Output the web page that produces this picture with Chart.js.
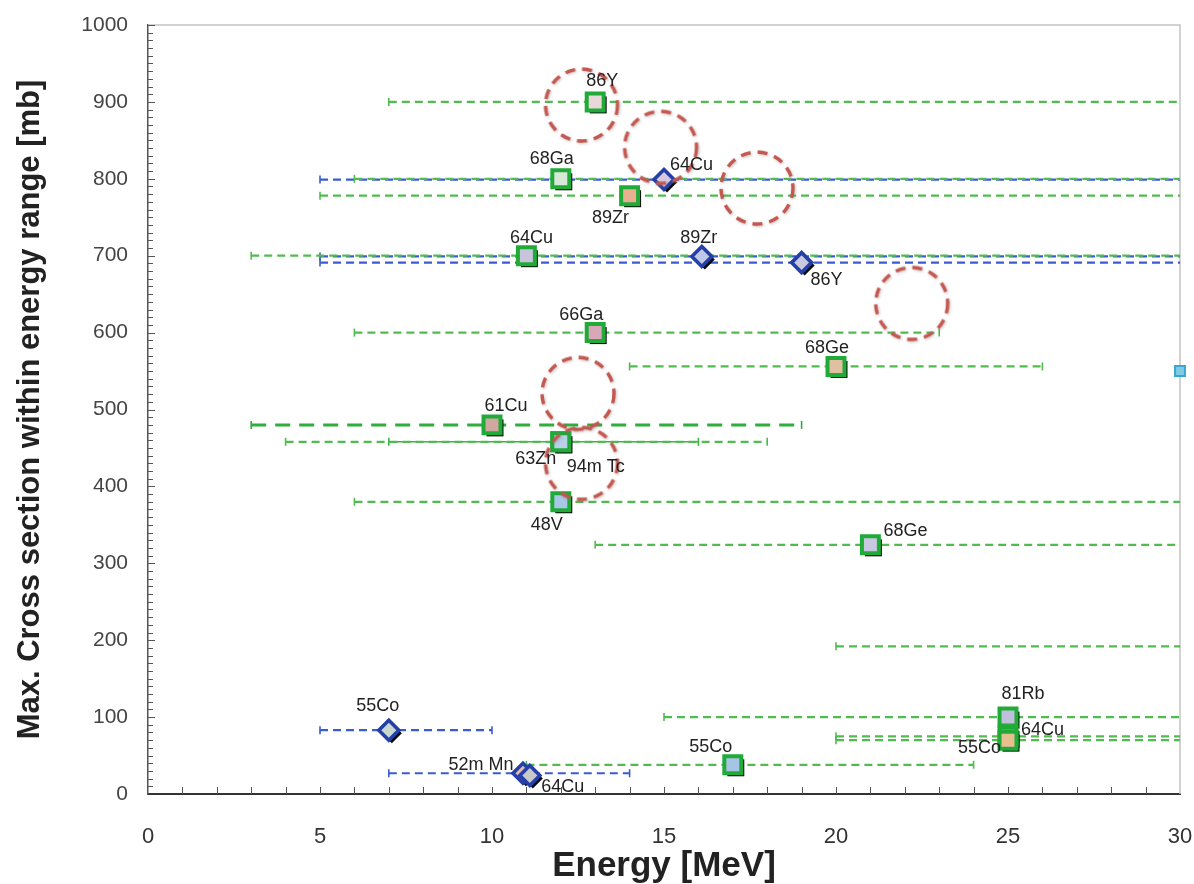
<!DOCTYPE html>
<html>
<head>
<meta charset="utf-8">
<script src="https://cdn.jsdelivr.net/npm/chart.js@4/dist/chart.umd.min.js"></script>
<style>
  html, body { margin: 0; padding: 0; background: #fff; }
  #wrap { width: 1194px; height: 884px; position: relative; }
</style>
</head>
<body>
<div id="wrap"><canvas id="grafico"></canvas></div>
<script>
// isotopes shown with green squares (energy of max, max cross section, energy range)
const greenNames  = ['86Y', '68Ga', '89Zr', '64Cu', '66Ga', '68Ge', '61Cu', '63Zn', '94m Tc', '48V', '68Ge', '81Rb', '64Cu', '55Co', '55Co'];
const greenEnergy = [13, 12, 14, 11, 13, 20, 10, 12, 12, 12, 21, 25, 25, 25, 17];
const greenXs     = [900, 800, 778, 700, 600, 556, 480, 458, 458, 380, 324, 100, 75, 70, 38];
const greenLow    = [7, 6, 5, 3, 6, 14, 3, 4, 7, 6, 13, 15, 20, 20, 11];
const greenHigh   = [30, 30, 30, 30, 23, 26, 19, 18, 16, 30, 30, 30, 30, 30, 24];

// isotopes shown with blue diamonds (null = no range line of its own)
const blueNames  = ['64Cu', '89Zr', '86Y', '55Co', '52m Mn', '64Cu'];
const blueEnergy = [15, 16.1, 19, 7, 10.9, 11.1];
const blueXs     = [799, 699, 691, 83, 27, 24];
const blueLow    = [5, 5, 5, 5, 7, null];
const blueHigh   = [30, 30, 30, 10, 14, null];

// range line with no marker inside the plot
const bareXs   = [192];
const bareLow  = [20];
const bareHigh = [30];

// point sitting on the right edge
const edgeEnergy = [30];
const edgeXs     = [550];

// red dashed circles
const circleEnergy = [12.6, 14.9, 17.7, 22.2, 12.5, 12.6];
const circleXs     = [896, 841, 788, 638, 521, 430];

// tick labels
const xTicks = [0, 5, 10, 15, 20, 25, 30];
const yTicks = [0, 100, 200, 300, 400, 500, 600, 700, 800, 900, 1000];

// --- styles (kept apart from the data) ---
const greenFill = ['#e8d8d8', '#d8e8d8', '#e8b090', '#c8c4dc', '#d8a8b8', '#e0c0a0', '#d0a8a0', '#b8d0e8', '#b8d0e8', '#a8c8e8', '#c8c8e0', '#c0c0dc', '#e8c090', '#e8c090', '#a8c4e4'];
const greenOffsets = [[7, -21, 'center'], [-9, -20, 'center'], [-19, 22, 'center'], [5, -18, 'center'], [-14, -18, 'center'],
  [-9, -18, 'center'], [14, -19, 'center'], [-25, 17, 'center'], [35, 25, 'center'], [-14, 23, 'center'],
  [35, -14, 'center'], [15, -23, 'center'], [13, -6, 'left'], [-7, 8, 'right'], [-22, -18, 'center']];
const blueOffsets = [[6, -15, 'left'], [-3, -18, 'center'], [25, 17, 'center'], [-11, -24, 'center'], [-42, -8, 'center'], [33, 11, 'center']];
const blueFill = ['#d8c8e0', '#c0c8e8', '#c8c8e0', '#c8d8d0', '#e8b8a8', '#c8c8c8'];

const verde = '#20aa38';
const verdeLinha = '#50bc50';
const azul = '#2440a8';
const azulLinha = '#3a5cd0';
const fonteTitulo = '"Liberation Sans", Arial, sans-serif';

// dashed red circle image used as a point style
function circuloTracejado() {
  const c = document.createElement('canvas');
  c.width = 90; c.height = 90;
  const g = c.getContext('2d');
  g.shadowColor = 'rgba(120,120,120,0.45)';
  g.shadowBlur = 3;
  g.shadowOffsetX = 1;
  g.shadowOffsetY = 1;
  g.strokeStyle = '#c4574f';
  g.lineWidth = 3.4;
  g.setLineDash([10, 7]);
  g.beginPath();
  g.arc(45, 45, 36, 0, Math.PI * 2);
  g.stroke();
  return c;
}

function barra(y, lo, hi, cor, dash, largura) {
  return {
    type: 'scatter',
    data: [{ x: lo, y: y }, { x: hi, y: y }],
    showLine: true,
    borderColor: cor,
    borderWidth: largura,
    borderDash: dash,
    pointStyle: 'line',
    rotation: 90,
    pointRadius: [4, hi >= 30 ? 0 : 4],
    pointBorderColor: cor,
    pointBorderWidth: 1.6,
    order: 5
  };
}

const datasets = [];

// range bars
greenXs.forEach((y, i) => {
  if (greenNames[i] === '61Cu') datasets.push(barra(y, greenLow[i], greenHigh[i], '#2eae3a', [15, 9], 3));
  else if (greenNames[i] === '94m Tc') datasets.push(barra(y, greenLow[i], greenHigh[i], '#3cb444', [], 1.6));
  else datasets.push(barra(y, greenLow[i], greenHigh[i], verdeLinha, [8, 5], 2.2));
});
bareXs.forEach((y, i) => datasets.push(barra(y, bareLow[i], bareHigh[i], verdeLinha, [8, 5], 2.2)));
blueXs.forEach((y, i) => {
  if (blueLow[i] !== null) datasets.push(barra(y, blueLow[i], blueHigh[i], azulLinha, [8, 5], 2.2));
});

const pontosVerdes = greenEnergy.map((x, i) => ({ x: x, y: greenXs[i] }));
const pontosAzuis = blueEnergy.map((x, i) => ({ x: x, y: blueXs[i] }));

// shadows (same points, drawn shifted)
datasets.push({ data: pontosVerdes, pointStyle: 'rect', pointRadius: 12, backgroundColor: '#0a0a0a', borderWidth: 0, sombra: true, order: 4 });
datasets.push({ data: pontosAzuis, pointStyle: 'rectRot', pointRadius: 10, backgroundColor: '#0a0a0a', borderWidth: 0, sombra: true, order: 4 });

// markers
datasets.push({ data: pontosVerdes, pointStyle: 'rect', pointRadius: 12, backgroundColor: greenFill, borderColor: verde, borderWidth: 4, nomes: greenNames, deslocamentos: greenOffsets, order: 3 });
datasets.push({ data: pontosAzuis, pointStyle: 'rectRot', pointRadius: 10, backgroundColor: blueFill, borderColor: azul, borderWidth: 3.6, nomes: blueNames, deslocamentos: blueOffsets, order: 2 });
datasets.push({ data: edgeEnergy.map((x, i) => ({ x: x, y: edgeXs[i] })), pointStyle: 'rect', pointRadius: 7, backgroundColor: '#7fcbe6', borderColor: '#3aa6cf', borderWidth: 2, clip: false, order: 2 });

// circles
datasets.push({ data: circleEnergy.map((x, i) => ({ x: x, y: circleXs[i] })), pointStyle: circuloTracejado(), pointRadius: 36, clip: false, order: 1 });

const pluginDesenho = {
  id: 'desenho',
  beforeDatasetsDraw(chart) {
    const { ctx, chartArea, scales } = chart;
    ctx.save();
    // light frame on top and right
    ctx.strokeStyle = '#c4c4c4';
    ctx.lineWidth = 1.5;
    ctx.beginPath();
    ctx.moveTo(chartArea.left, chartArea.top);
    ctx.lineTo(chartArea.right, chartArea.top);
    ctx.lineTo(chartArea.right, chartArea.bottom);
    ctx.stroke();
    // tick marks pointing inside
    ctx.strokeStyle = '#555';
    ctx.lineWidth = 1;
    for (let v = 1; v < 30; v++) {
      const px = Math.round(scales.x.getPixelForValue(v)) + 0.5;
      ctx.beginPath();
      ctx.moveTo(px, chartArea.bottom);
      ctx.lineTo(px, chartArea.bottom - 7);
      ctx.stroke();
    }
    for (let v = 10; v <= 1000; v += 10) {
      const py = Math.round(scales.y.getPixelForValue(v)) + 0.5;
      ctx.beginPath();
      ctx.moveTo(chartArea.left, py);
      ctx.lineTo(chartArea.left + (v % 100 === 0 ? 7 : 5), py);
      ctx.stroke();
    }
    ctx.restore();
  },
  beforeDatasetDraw(chart, args) {
    const ds = chart.data.datasets[args.index];
    if (ds.sombra) {
      chart.ctx.save();
      chart.ctx.translate(3, 3);
    }
  },
  afterDatasetDraw(chart, args) {
    const ds = chart.data.datasets[args.index];
    if (ds.sombra) chart.ctx.restore();
  },
  afterDatasetsDraw(chart) {
    const ctx = chart.ctx;
    ctx.save();
    ctx.font = '18px "Liberation Sans", Arial, sans-serif';
    ctx.fillStyle = '#222';
    ctx.textBaseline = 'middle';
    chart.data.datasets.forEach((ds, d) => {
      if (!ds.nomes) return;
      const meta = chart.getDatasetMeta(d);
      meta.data.forEach((p, i) => {
        const [dx, dy, al] = ds.deslocamentos[i];
        ctx.textAlign = al;
        ctx.fillText(ds.nomes[i], p.x + dx, p.y + dy);
      });
    });
    ctx.restore();
  }
};

new Chart(document.getElementById('grafico'), {
  type: 'scatter',
  data: { datasets: datasets },
  options: {
    responsive: true,
    maintainAspectRatio: false,
    animation: false,
    layout: { autoPadding: false, padding: { top: 25, right: 14, left: 0, bottom: 0 } },
    plugins: {
      legend: { display: false },
      tooltip: { enabled: false }
    },
    scales: {
      x: {
        type: 'linear',
        min: 0,
        max: 30,
        afterBuildTicks: s => { s.ticks = xTicks.map(v => ({ value: v })); },
        afterFit: s => { s.height = 90; s.paddingLeft = 0; s.paddingRight = 0; },
        grid: { display: false, drawTicks: false },
        border: { display: true, color: '#333', width: 2 },
        ticks: { padding: 30, color: '#333', callback: v => String(v), font: { family: fonteTitulo, size: 22 } },
        title: { display: true, text: 'Energy [MeV]', color: '#222', padding: 0, font: { family: fonteTitulo, size: 35, weight: 'bold', lineHeight: 1 } }
      },
      y: {
        type: 'linear',
        min: 0,
        max: 1000,
        afterBuildTicks: s => { s.ticks = yTicks.map(v => ({ value: v })); },
        afterFit: s => { s.width = 148; s.paddingTop = 0; s.paddingBottom = 0; },
        grid: { display: false, drawTicks: false },
        border: { display: true, color: '#555', width: 1.5 },
        ticks: { padding: 20, color: '#444', callback: v => String(v), font: { family: fonteTitulo, size: 21 } },
        title: { display: true, text: 'Max. Cross section within energy range [mb]', color: '#222', padding: { top: 15, bottom: 0 }, font: { family: fonteTitulo, size: 31, weight: 'bold', lineHeight: 1 } }
      }
    }
  },
  plugins: [pluginDesenho]
});
</script>
</body>
</html>
